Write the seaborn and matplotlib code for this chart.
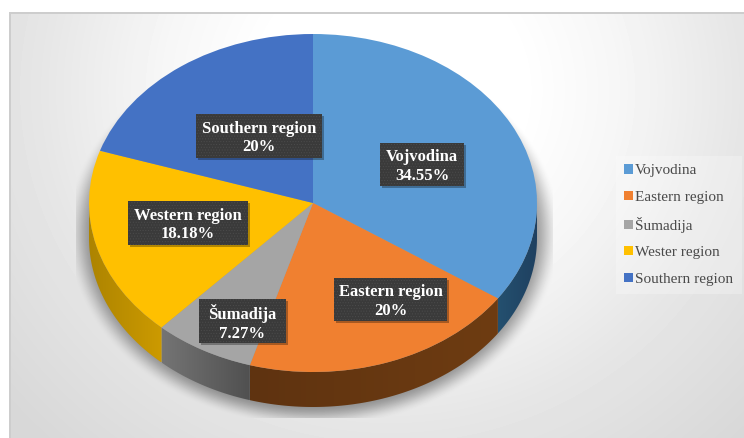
"""Regional share pie, drawn as an Excel-style 3D pie with a soft shadow."""

import numpy as np
import matplotlib
matplotlib.use("Agg")
import matplotlib.pyplot as plt
import matplotlib.transforms as mtransforms
from matplotlib.colors import to_rgb
from matplotlib.patches import Patch, Polygon, Rectangle
import seaborn as sns

# ── Data ──────────────────────────────────────────────────────────────────────

legend_names = ["Vojvodina", "Eastern region", "Šumadija", "Wester region", "Southern region"]
label_names = ["Vojvodina", "Eastern region", "Šumadija", "Western region", "Southern region"]
shares = [34.55, 20, 7.27, 18.18, 20]

# ── Style ─────────────────────────────────────────────────────────────────────

W, H = 744, 438
CX, CY, RX, RY = 313, 203, 224, 169
DEPTH = 35 / RY
SERIF = "Liberation Serif"

slice_colors = sns.color_palette(["#5b9bd5", "#f08030", "#a5a5a5", "#ffc000", "#4472c4"])
# wall colour at the left and right end of each slice's visible side
wall_ends = [
    ("#24506f", "#1f4060"),
    ("#5f3310", "#6e3c12"),
    ("#747474", "#505050"),
    ("#ad8400", "#cc9a00"),
    ("#2a4478", "#2a4478"),
]
# box of each data label: left, top, right, bottom in image pixels
label_boxes = [
    (380, 143, 464, 186),
    (334, 278, 447, 321),
    (199, 299, 286, 343),
    (128, 201, 248, 245),
    (196, 114, 322, 158),
]

sns.set_theme(style="white")
plt.rcParams["font.family"] = [SERIF, "DejaVu Sans"]
plt.rcParams["hatch.linewidth"] = 0.4

fig = plt.figure(figsize=(W / 100, H / 100), dpi=100)
px = mtransforms.Affine2D().scale(1 / W, -1 / H).translate(0, 1) + fig.transFigure

# ── Background and shadow ─────────────────────────────────────────────────────

bg_ax = fig.add_axes([0, 0, 1, 1], zorder=0)
yy, xx = np.mgrid[0:H, 0:W]
dist = np.hypot(xx - 390, (yy - 90) * 1.05)
shade = np.interp(dist, [0, 130, 230, 350, 500], [255, 255, 246, 230, 216])

r = np.hypot((xx - 313) / 240, (yy - 232) / 189)
shadow = np.clip((1.03 - r) / 0.12, 0, 1)
shadow = shadow * shadow * (3 - 2 * shadow)
shadow[(xx < 76) | (xx > 552) | (yy > 417)] = 0
shade = shade * (1 - 0.38 * shadow)

shade[(yy < 12) | (xx < 9)] = 255
shade[(yy >= 12) & (yy < 14) & (xx >= 9)] = 205
shade[(xx >= 9) & (xx < 11) & (yy >= 12)] = 205
bg_ax.imshow(shade, cmap="gray", vmin=0, vmax=255, aspect="auto", interpolation="bilinear")
bg_ax.axis("off")

# ── Pie ───────────────────────────────────────────────────────────────────────

ax = fig.add_axes([0, 0, 1, 1], zorder=1)
ax.patch.set_alpha(0)

# side walls: a horizontal gradient clipped to the visible part of each slice's rim
edges = np.cumsum([0] + shares) / sum(shares) * 2 * np.pi
for i, (start, stop) in enumerate(zip(edges[:-1], edges[1:])):
    a0, a1 = max(start, np.pi / 2), min(stop, 3 * np.pi / 2)
    if a0 >= a1:
        continue
    arc = np.linspace(a0, a1, 80)
    sx, sy = np.sin(arc), np.cos(arc)
    outline = np.vstack([np.column_stack([sx, sy]),
                         np.column_stack([sx[::-1], sy[::-1] - DEPTH])])
    gradient = np.linspace(to_rgb(wall_ends[i][0]), to_rgb(wall_ends[i][1]), 64)[np.newaxis]
    image = ax.imshow(gradient, extent=(sx.min(), sx.max(), (sy - DEPTH).min(), sy.max()),
                      aspect="auto", interpolation="bilinear", zorder=1)
    image.set_clip_path(Polygon(outline, closed=True, transform=ax.transData))

wedges, _ = ax.pie(shares, colors=slice_colors, startangle=90, counterclock=False,
                   radius=1, wedgeprops={"linewidth": 0, "zorder": 2})
ax.set_aspect("auto")
ax.set_xlim((0 - CX) / RX, (W - CX) / RX)
ax.set_ylim((CY - H) / RY, CY / RY)
ax.axis("off")

# ── Data labels ───────────────────────────────────────────────────────────────

for name, value, (x0, y0, x1, y1) in zip(label_names, shares, label_boxes):
    ax.add_patch(Rectangle((x0 + 2, y0 + 2), x1 - x0, y1 - y0, transform=px,
                           facecolor="black", alpha=0.3, linewidth=0, zorder=3))
    ax.add_patch(Rectangle((x0, y0), x1 - x0, y1 - y0, transform=px,
                           facecolor="#3a3a3a", edgecolor="#4c4c4c", hatch="......",
                           linewidth=0, zorder=4))
    ax.text((x0 + x1) / 2, (y0 + y1) / 2 + 2, f"{name}\n{value:g}%", transform=px,
            ha="center", va="center", color="white", fontsize=12, fontweight="bold",
            linespacing=1.18, zorder=5)

# ── Legend ────────────────────────────────────────────────────────────────────

handles = [Patch(facecolor=c, linewidth=0) for c in slice_colors]
fig.legend(handles, legend_names, loc="center left",
           bbox_to_anchor=(616 / W, 1 - 225 / H), frameon=True, fancybox=False,
           facecolor="white", framealpha=0.25, edgecolor="none", fontsize=11,
           labelcolor="#4a4a4a", handlelength=0.58, handleheight=0.55,
           handletextpad=0.13, labelspacing=0.87, borderpad=0.55, borderaxespad=0)

fig.savefig("out.png", dpi=100)
